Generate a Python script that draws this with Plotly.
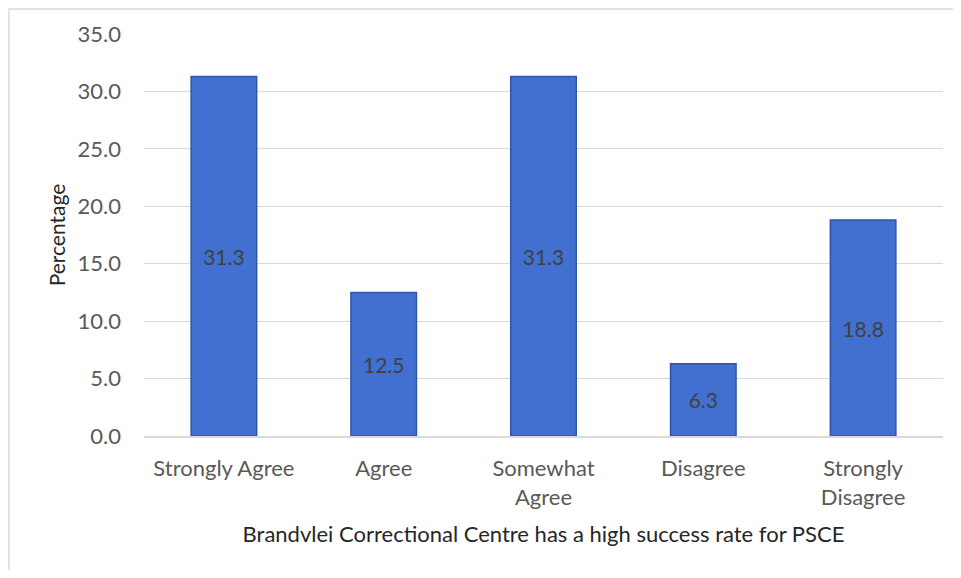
import plotly.graph_objects as go

# Survey responses (percent)
categories = ["Strongly Agree", "Agree", "Somewhat<br>Agree", "Disagree", "Strongly<br>Disagree"]
percentages = [31.3, 12.5, 31.3, 6.3, 18.8]
y_ticks = [0, 5, 10, 15, 20, 25, 30, 35]

font_family = "Lato, Open Sans, sans-serif"
text_grey = "#595959"

fig = go.Figure()
fig.add_trace(go.Bar(
    x=categories,
    y=percentages,
    text=[f"{v:.1f}" for v in percentages],
    textposition="inside",
    insidetextanchor="middle",
    textfont=dict(family=font_family, size=21, color="#404040"),
    marker=dict(color="#4170D0", line=dict(color="#2C57A6", width=1.5)),
    width=0.41,
    hoverinfo="skip",
))

# page body has an 8px margin, so the figure is sized to sit inside the window
fig.update_layout(
    width=945,
    height=562,
    margin=dict(l=136, r=10, t=26, b=134),
    paper_bgcolor="white",
    plot_bgcolor="white",
    showlegend=False,
    font=dict(family=font_family, color=text_grey, size=22),
    xaxis=dict(
        showgrid=False,
        showline=True,
        linecolor="#d9d9d9",
        linewidth=2,
        ticks="",
        ticklabelstandoff=12,
        tickfont=dict(size=22, color=text_grey),
        title=dict(text="Brandvlei Correctional Centre has a high success rate for PSCE",
                   font=dict(size=22, color="#262626"), standoff=18),
    ),
    yaxis=dict(
        range=[0, 35],
        tickvals=y_ticks,
        tickformat=".1f",
        showgrid=True,
        gridcolor="#d9d9d9",
        gridwidth=1,
        zeroline=False,
        ticks="",
        ticklabelstandoff=22,
        tickfont=dict(size=22, color=text_grey),
        title=dict(text="Percentage", font=dict(size=21, color="#262626"), standoff=6),
    ),
    shapes=[dict(
        type="rect", xref="paper", yref="paper",
        x0=-0.169, x1=1.03, y0=-0.4, y1=1.062,
        line=dict(color="#d9d9d9", width=1.5),
        fillcolor="rgba(0,0,0,0)", layer="below",
    )],
)

fig.write_html("out.html")
